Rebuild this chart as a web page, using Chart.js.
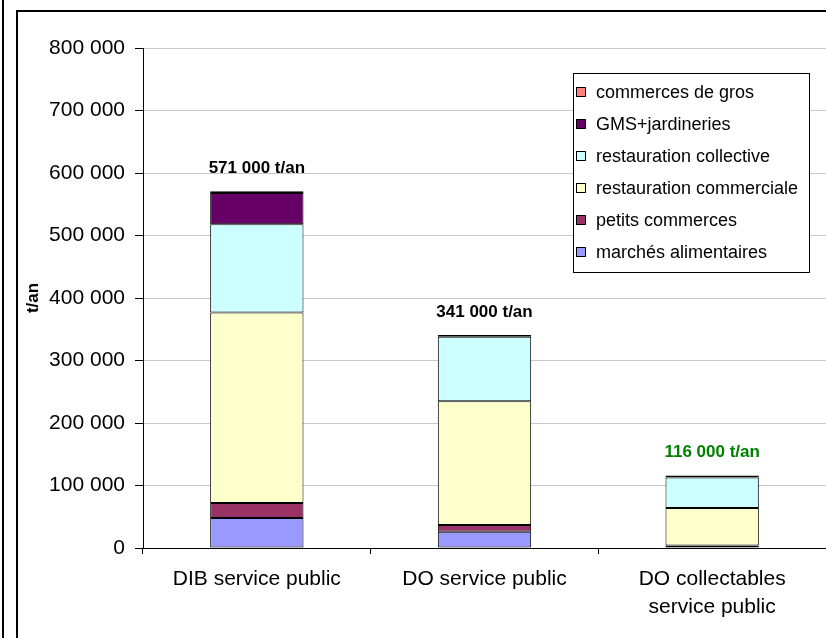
<!DOCTYPE html>
<html>
<head>
<meta charset="utf-8">
<script src="https://cdn.jsdelivr.net/npm/chart.js@4"></script>
<style>
  html, body { margin: 0; padding: 0; background: #fff; }
  #wrap { width: 826px; height: 638px; position: relative; }
</style>
</head>
<body>
<div id="wrap"><canvas id="chart"></canvas></div>
<script>
'use strict';

// categories and totals written above the bars
const categories = ['DIB service public', 'DO service public', ['DO collectables', 'service public']];
const totalLabels = ['571 000 t/an', '341 000 t/an', '116 000 t/an'];
const totalColors = ['#000000', '#000000', '#008000'];

// stacked series, bottom to top (t/an)
const marches      = [48000, 26000, 0];
const petits       = [24000, 11000, 4000];
const commerciale  = [305000, 198000, 60000];
const collective   = [141000, 103000, 49000];
const gms          = [50000, 0, 0];
const gros         = [3000, 3000, 3000];

const yTicks = [0, 100000, 200000, 300000, 400000, 500000, 600000, 700000, 800000];

const FONT = '"Liberation Sans", Arial, sans-serif';

function fmt(v) {
  return String(v).replace(/\B(?=(\d{3})+(?!\d))/g, ' ');
}

function ds(label, data, color) {
  return { label, data, backgroundColor: color, borderColor: '#000', borderWidth: 1,
           borderSkipped: false, barPercentage: 0.41, categoryPercentage: 1 };
}

// frame lines around the chart
const framePlugin = {
  id: 'frame',
  beforeDraw(chart) {
    const c = chart.ctx;
    c.save();
    c.fillStyle = '#fff';
    c.fillRect(0, 0, chart.width, chart.height);
    c.strokeStyle = '#000';
    c.lineWidth = 2;
    c.beginPath();
    c.moveTo(3, 0); c.lineTo(3, chart.height);
    c.moveTo(17, chart.height + 5); c.lineTo(17, 11); c.lineTo(chart.width + 5, 11);
    c.stroke();
    c.restore();
  }
};

// totals above bars
const totalsPlugin = {
  id: 'totals',
  afterDatasetsDraw(chart) {
    const c = chart.ctx;
    const n = chart.data.datasets.length;
    const top = chart.getDatasetMeta(n - 1).data;
    c.save();
    c.font = 'bold 17px ' + FONT;
    c.textAlign = 'center';
    c.textBaseline = 'middle';
    top.forEach((bar, i) => {
      c.fillStyle = totalColors[i];
      c.fillText(totalLabels[i], bar.x, bar.y - 23);
    });
    c.restore();
  }
};

// boxed legend inside the plot, reversed order
const legendPlugin = {
  id: 'boxLegend',
  afterDraw(chart) {
    const c = chart.ctx;
    const items = chart.data.datasets.slice().reverse();
    const x0 = 573, y0 = 73, w = 236, h = 199;
    c.save();
    c.fillStyle = '#fff';
    c.fillRect(x0, y0, w, h);
    c.strokeStyle = '#000';
    c.lineWidth = 1;
    c.strokeRect(x0 + 0.5, y0 + 0.5, w, h);
    c.font = '18px ' + FONT;
    c.textBaseline = 'middle';
    items.forEach((d, i) => {
      const cy = 92 + i * 32;
      c.fillStyle = d.backgroundColor;
      c.fillRect(576, cy - 5, 10, 10);
      c.strokeRect(576.5, cy - 4.5, 9, 9);
      c.fillStyle = '#000';
      c.fillText(d.label, 596, cy + 1);
    });
    c.restore();
  }
};

new Chart(document.getElementById('chart'), {
  type: 'bar',
  data: {
    labels: categories,
    datasets: [
      ds('marchés alimentaires', marches, '#9999FF'),
      ds('petits commerces', petits, '#993366'),
      ds('restauration commerciale', commerciale, '#FFFFCC'),
      ds('restauration collective', collective, '#CCFFFF'),
      ds('GMS+jardineries', gms, '#660066'),
      ds('commerces de gros', gros, '#FF8080'),
    ]
  },
  options: {
    responsive: true, maintainAspectRatio: false, animation: false,
    layout: { padding: { top: 48, right: 0, left: 0, bottom: 0 } },
    plugins: { legend: { display: false }, tooltip: { enabled: false } },
    scales: {
      x: {
        stacked: true,
        afterFit: s => { s.height = 90; },
        grid: { drawOnChartArea: false, drawTicks: true, tickLength: 6, tickColor: '#000' },
        border: { color: '#000', width: 1 },
        ticks: { color: '#000', font: { family: FONT, size: 21, lineHeight: 1.3 }, padding: 12, maxRotation: 0 }
      },
      y: {
        stacked: true, min: 0, max: 800000,
        afterFit: s => { s.width = 143; },
        afterBuildTicks: s => { s.ticks = yTicks.map(v => ({ value: v })); },
        grid: { color: '#c8c8c8', tickColor: '#000', tickLength: 8 },
        border: { color: '#000', width: 1 },
        title: { display: true, text: 't/an', color: '#000', font: { family: FONT, size: 17, weight: 'bold' }, padding: { top: 23, bottom: 0 } },
        ticks: { color: '#000', font: { family: FONT, size: 21 }, padding: 10, callback: v => fmt(v) }
      }
    }
  },
  plugins: [framePlugin, totalsPlugin, legendPlugin]
});
</script>
</body>
</html>
